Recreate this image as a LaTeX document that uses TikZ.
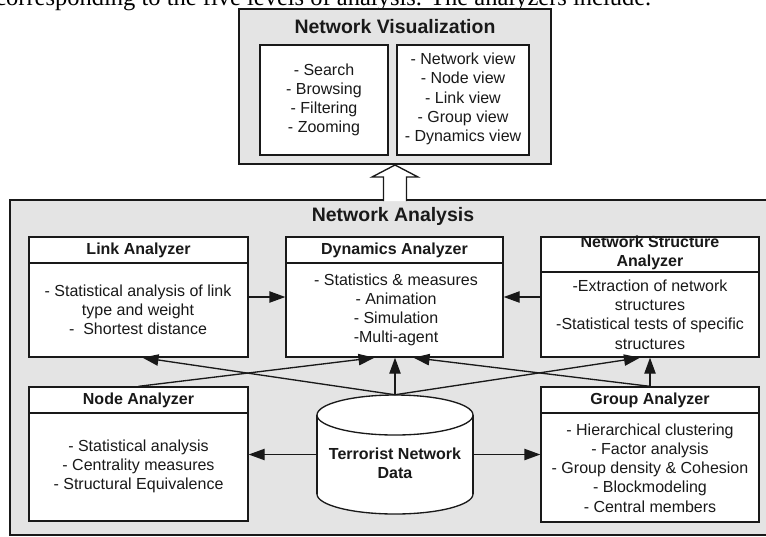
\documentclass[tikz,border=0pt]{standalone}
\usepackage{fontspec}
\setmainfont{Liberation Sans}
\newfontfamily\serifface{Liberation Serif}
\usetikzlibrary{arrows.meta,calc,fit}
\definecolor{panel}{RGB}{228,228,228}
\definecolor{ink}{RGB}{25,25,25}
\begin{document}
\begin{tikzpicture}[x=0.75pt,y=-0.75pt,
  panelbox/.style={draw=ink, fill=panel, line width=1.2pt, inner sep=0pt},
  whitebox/.style={draw=ink, fill=white, line width=1pt, inner sep=0pt},
  txt/.style={align=center, font=\fontsize{12pt}{14.4pt}\selectfont, text=ink, inner sep=0pt},
  ttl/.style={align=center, font=\fontsize{12pt}{14.4pt}\selectfont\bfseries, text=ink, inner sep=0pt},
  bigttl/.style={font=\fontsize{14.6pt}{17pt}\selectfont\bfseries, text=ink, inner sep=0pt},
  rule/.style={draw=ink, line width=1pt},
  conn/.style={draw=ink, line width=1pt, -{Triangle[length=12pt,width=8.5pt]}},
]
\useasboundingbox (0,0) rectangle (766,536);
\begin{scope}
\clip (0,0) rectangle (766,536);

% clipped caption line above the figure
\node[anchor=base west, inner sep=0pt, text=black] (cap) at (-5,5)
  {\resizebox{492pt}{!}{\serifface\fontsize{18pt}{20pt}\selectfont corresponding to the five levels of analysis. The analyzers include.}};

% Network Visualization
\node[panelbox, line width=1.5pt, fit={(239,9)(551,164)}] (nv) {};
\node[bigttl] (nvT) at (395,27) {Network Visualization};
\node[whitebox, fit={(260,45)(388,155)}] (nvL) {};
\node[whitebox, fit={(397,45)(529,155)}] (nvR) {};
\node[txt] (nvLt) at (nvL.center) {- Search\\- Browsing\\- Filtering\\- Zooming};
\node[txt] (nvRt) at (463,99) {- Network view\\- Node view\\- Link view\\- Group view\\- Dynamics view};

% Network Analysis
\node[panelbox, fit={(10,200)(780,535)}] (nab) {};
\node[bigttl] (naT) at (393,216) {Network Analysis};

% Link Analyzer
\node[whitebox, fit={(29,237)(248,357)}] (la) {};
\draw[rule] (29,263) -- (248,263);
\node[ttl] (laT) at (138.5,250) {Link Analyzer};
\node[txt] (laB) at (138,309.5) {- Statistical analysis of link\\type and weight\\-\ \ Shortest distance};

% Dynamics Analyzer
\node[whitebox, fit={(286,237)(503,357)}] (da) {};
\draw[rule] (286,263) -- (503,263);
\node[ttl] (daT) at (394.5,250) {Dynamics Analyzer};
\node[txt] (daB) at (396,310) {- Statistics \& measures\\- Animation\\- Simulation\\-Multi-agent};

% Network Structure Analyzer
\node[whitebox, fit={(541,237)(759,357)}] (sa) {};
\draw[rule] (541,272) -- (759,272);
\node[ttl, font=\fontsize{12pt}{14.6pt}\selectfont\bfseries] (saT) at (650,253) {Network Structure\\Analyzer};
\node[txt] (saB) at (650,314.5) {-Extraction of network\\structures\\-Statistical tests of specific\\structures};

% Node Analyzer
\node[whitebox, fit={(29,387)(248,521)}] (na) {};
\draw[rule] (29,413) -- (248,413);
\node[ttl] (naT2) at (138.5,400) {Node Analyzer};
\node[txt] (naB) at (138.5,466.5) {- Statistical analysis\\- Centrality measures\\- Structural Equivalence};

% Group Analyzer
\node[whitebox, fit={(541,387)(759,522)}] (ga) {};
\draw[rule] (541,413) -- (759,413);
\node[ttl] (gaT) at (650,400) {Group Analyzer};
\node[txt] (gaB) at (650,468) {- Hierarchical clustering\\- Factor analysis\\- Group density \& Cohesion\\- Blockmodeling\\- Central members};

% Terrorist Network Data (cylinder)
\node[inner sep=0pt, fit={(317,395)(473,514)}] (db) {};
\fill[white] (317,415) rectangle (473,494);
\fill[white] (395,494) ellipse [x radius=58.5pt, y radius=15pt];
\draw[rule] (317,415) -- (317,494);
\draw[rule] (473,415) -- (473,494);
\begin{scope}
  \clip (300,494) rectangle (490,520);
  \draw[rule] (395,494) ellipse [x radius=58.5pt, y radius=15pt];
\end{scope}
\draw[rule, fill=white] (395,415) ellipse [x radius=58.5pt, y radius=15pt];
\node[ttl] (dbT) at (395,463.5) {Terrorist Network\\Data};

% connectors
\draw[conn] (la.east) -- (da.west);
\draw[conn] (sa.west) -- (da.east);
\draw[conn] (db.west) -- (db.west -| na.east);
\draw[conn] (db.east) -- (db.east -| ga.west);
\draw[conn] (db.north) -- (db.north |- da.south);
\draw[conn] (db.north) -- ($(la.south)+(4,0)$);
\draw[conn] (na.north) -- ($(da.south)+(-20,0)$);
\draw[conn] (ga.north) -- ($(da.south)+(19,0)$);
\draw[conn] (db.north) -- ($(sa.south)+(-10,0)$);
\draw[conn] (ga.north) -- (sa.south);

% hollow arrow from Network Analysis up to Network Visualization
\draw[draw=ink, line width=1pt, fill=white]
  ($(nv.south)+(-11.5,36)$) -- ($(nv.south)+(-11.5,12)$) -- ($(nv.south)+(-23,12)$)
  -- (nv.south) -- ($(nv.south)+(23,12)$) -- ($(nv.south)+(11.5,12)$)
  -- ($(nv.south)+(11.5,36)$);
\end{scope}
\end{tikzpicture}
\end{document}
